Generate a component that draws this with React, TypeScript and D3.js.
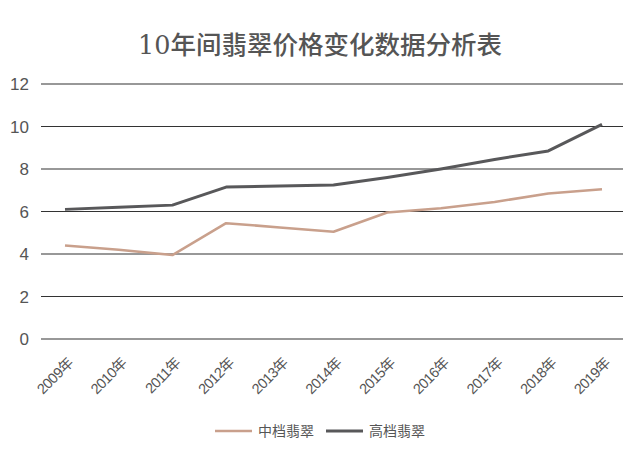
import React from "react";
import * as d3 from "d3";

const years = ["2009年","2010年","2011年","2012年","2013年","2014年","2015年","2016年","2017年","2018年","2019年"];
const midValues = [4.4, 4.2, 3.95, 5.45, 5.25, 5.05, 5.95, 6.15, 6.45, 6.85, 7.05];
const highValues = [6.1, 6.2, 6.3, 7.15, 7.2, 7.25, 7.6, 8.0, 8.45, 8.85, 10.1];
const yTicks = [0, 2, 4, 6, 8, 10, 12];
const seriesNames = ["中档翡翠", "高档翡翠"];
const title = "10年间翡翠价格变化数据分析表";

const W = 640, H = 451;
const colors = ["#c9a08c", "#58585a"];

export default function App() {
  const x = d3.scalePoint<string>().domain(years).range([65, 602]);
  const y = d3.scaleLinear().domain([0, 12]).range([339, 84]);
  const line = d3.line<number>().x((_, i) => x(years[i]) as number).y(d => y(d));
  const font = "'Liberation Sans', Arial, 'Noto Sans CJK SC', sans-serif";
  return (
    <svg width={W} height={H} style={{ position: "absolute", left: 0, top: 0, background: "#fff" }}>
      <text x={320} y={54} textAnchor="middle" fontSize={25.5} fill="#555" fontWeight={500}
        fontFamily="'DejaVu Serif', 'Liberation Serif', 'Noto Sans CJK SC', serif">{title}</text>
      {yTicks.map(t => (
        <g key={t}>
          <line x1={41} x2={623} y1={y(t)} y2={y(t)} stroke="#333" strokeWidth={1.2} />
          <text x={29} y={y(t) + 6} textAnchor="end" fontSize={17} fill="#555" fontFamily={font}>{t}</text>
        </g>
      ))}
      {years.map(yr => {
        const px = (x(yr) as number) + 9;
        const py = 364;
        return (
          <text key={yr} x={px} y={py} textAnchor="end" fontSize={14.5} fill="#555" fontFamily={font}
            letterSpacing={-0.6} transform={`rotate(-45 ${px} ${py})`}>{yr}</text>
        );
      })}
      <path d={line(midValues) || ""} fill="none" stroke={colors[0]} strokeWidth={2.6} strokeLinejoin="round" />
      <path d={line(highValues) || ""} fill="none" stroke={colors[1]} strokeWidth={3} strokeLinejoin="round" />
      <g fontFamily={font} fontSize={14} fill="#555">
        <line x1={215} x2={252} y1={431} y2={431} stroke={colors[0]} strokeWidth={2.6} />
        <text x={258} y={436}>{seriesNames[0]}</text>
        <line x1={326} x2={363} y1={431} y2={431} stroke={colors[1]} strokeWidth={3} />
        <text x={369} y={436}>{seriesNames[1]}</text>
      </g>
    </svg>
  );
}
